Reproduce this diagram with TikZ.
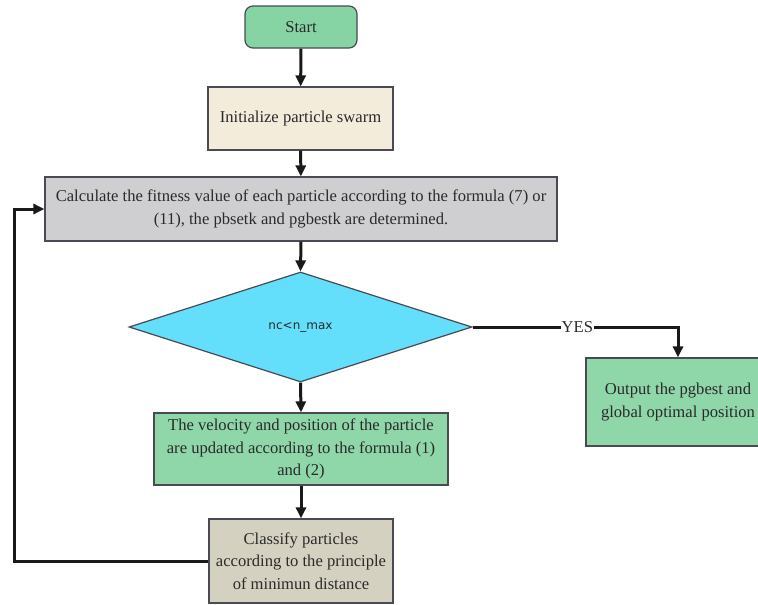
\documentclass[tikz,border=0pt]{standalone}
\usepackage{fontspec}
\setmainfont{Liberation Serif}
\newfontfamily\dejavu{DejaVu Sans}
\usetikzlibrary{shapes.geometric,arrows.meta}
\definecolor{boxline}{HTML}{4A4A55}
\definecolor{greenA}{HTML}{86D4A4}
\definecolor{greenB}{HTML}{8FD6A9}
\definecolor{beige}{HTML}{F4ECDB}
\definecolor{grayfill}{HTML}{CFCFD1}
\definecolor{khaki}{HTML}{D5D1C1}
\definecolor{cyanfill}{HTML}{63DFFB}
\definecolor{txt}{HTML}{2A2A2A}
\begin{document}
\begin{tikzpicture}[x=1pt,y=-1pt,
  box/.style={draw=boxline, line width=1.2pt, rectangle, align=center, inner sep=2pt,
    text=txt, font=\fontsize{16.6}{22.5}\selectfont},
  conn/.style={line width=3pt, draw=black!90, -{Triangle[length=11pt,width=10pt]}}]
\useasboundingbox (0,0) rectangle (758,605);
\node[box, fill=greenA, rounded corners=8pt, minimum width=112pt, minimum height=42pt] (start) at (301,27) {Start};
\node[box, fill=beige, minimum width=185pt, minimum height=63pt] (init) at (300.5,118.5) {Initialize particle swarm};
\node[box, fill=grayfill, minimum width=512pt, minimum height=64pt] (calc) at (301,209)
  {Calculate the fitness value of each particle according to the formula (7) or\\(11), the pbsetk and pgbestk are determined.};
\node[draw=boxline, line width=1.2pt, fill=cyanfill, shape=diamond, shape aspect=3.1, inner sep=0pt,
  minimum width=343pt, minimum height=110pt, text=txt, font=\dejavu\fontsize{12}{14}\selectfont] (dec) at (300.5,327) {nc<n\_max};
\node[box, fill=greenB, minimum width=294pt, minimum height=72pt] (vel) at (301,449)
  {The velocity and position of the particle\\are updated according to the formula (1)\\and (2)};
\node[box, fill=greenB, minimum width=184pt, minimum height=88pt] (out) at (678,402)
  {Output the pgbest and\\global optimal position};
\node[box, fill=khaki, minimum width=184pt, minimum height=84pt] (cls) at (301,561)
  {Classify particles\\according to the principle\\of minimun distance};
\coordinate (yescorner) at (678,327);
\coordinate (bl) at (14,561);
\coordinate (tl) at (14,209);
\draw[conn] (start) -- (init);
\draw[conn] (init) -- (calc);
\draw[conn] (calc.south) -- (dec.north);
\draw[conn] (dec.south) -- (vel.north);
\draw[conn] (vel) -- (cls);
\draw[conn] (dec.east) -- node[pos=0.51, fill=white, inner sep=1pt, text=txt, font=\fontsize{16.6}{18}\selectfont] (yes) {YES} (yescorner) -- (out.north);
\draw[conn] (cls.west) -- (bl) -- (tl) -- (calc.west);
\end{tikzpicture}
\end{document}
